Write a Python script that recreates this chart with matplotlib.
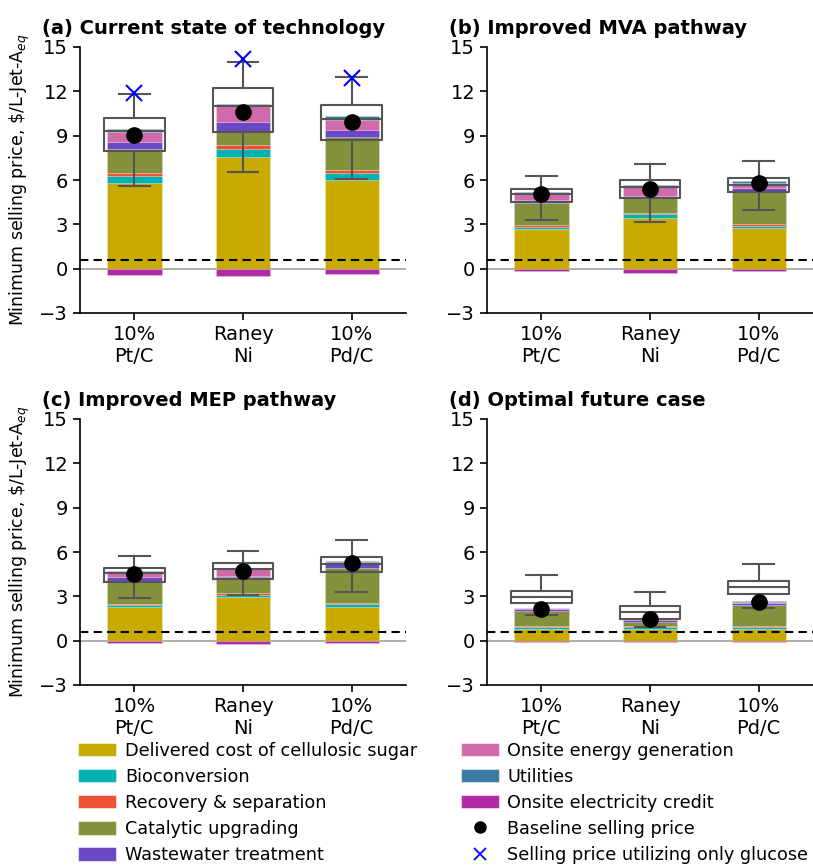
import matplotlib
matplotlib.use('Agg')
import matplotlib.pyplot as plt
from matplotlib.patches import Patch
from matplotlib.lines import Line2D
import numpy as np

# ---------------- data ----------------
catalysts = ['10%\nPt/C', 'Raney\nNi', '10%\nPd/C']
panel_titles = ['(a) Current state of technology', '(b) Improved MVA pathway',
                '(c) Improved MEP pathway', '(d) Optimal future case']

component_names = ['Delivered cost of cellulosic sugar', 'Bioconversion',
                   'Recovery & separation', 'Catalytic upgrading',
                   'Wastewater treatment', 'Onsite energy generation',
                   'Utilities', 'Onsite electricity credit']
component_colors = ['#c8aa00', '#00b2b2', '#f05033', '#84913a',
                    '#6a48c8', '#d06aaa', '#3a7ba0', '#b02aa8']

# rows: panels (a)-(d); columns: Pt/C, Raney Ni, Pd/C
sugar = [[5.80, 7.53, 6.00], [2.66, 3.42, 2.75], [2.28, 2.93, 2.30], [0.81, 0.81, 0.81]]
bioconversion = [[0.50, 0.59, 0.48], [0.15, 0.25, 0.13], [0.11, 0.16, 0.16], [0.11, 0.11, 0.11]]
recovery = [[0.17, 0.27, 0.22], [0.12, 0.13, 0.14], [0.09, 0.11, 0.09], [0.07, 0.09, 0.07]]
catalytic = [[1.65, 0.90, 2.21], [1.53, 0.97, 2.16], [1.54, 1.09, 2.35], [1.00, 0.25, 1.42]]
wastewater = [[0.43, 0.61, 0.49], [0.22, 0.18, 0.27], [0.29, 0.09, 0.27], [0.13, 0.12, 0.16]]
onsite_energy = [[0.67, 1.08, 0.68], [0.38, 0.61, 0.35], [0.25, 0.47, 0.16], [0.07, 0.09, 0.07]]
utilities = [[0.25, 0.14, 0.27], [0.14, 0.09, 0.14], [0.14, 0.05, 0.09], [0.04, 0.04, 0.04]]
electricity_credit = [[-0.40, -0.47, -0.35], [-0.16, -0.27, -0.16], [-0.16, -0.20, -0.16], [-0.09, -0.09, -0.09]]

baseline_price = [[9.07, 10.58, 9.92], [5.06, 5.38, 5.78], [4.51, 4.72, 5.26], [2.17, 1.44, 2.60]]
glucose_only_price = [[11.9, 14.19, 12.9], None, None, None]

# uncertainty boxes: q1, median, q3, whisker low, whisker high
box_q1 = [[7.94, 9.25, 8.68], [4.48, 4.75, 5.18], [4.00, 4.20, 4.63], [2.55, 1.49, 3.18]]
box_med = [[9.34, 11.00, 10.10], [5.04, 5.56, 5.65], [4.56, 4.88, 5.17], [2.98, 1.94, 3.61]]
box_q3 = [[10.20, 12.20, 11.07], [5.36, 5.99, 6.12], [4.90, 5.26, 5.67], [3.38, 2.32, 4.06]]
box_lo = [[5.57, 6.54, 6.07], [3.29, 3.17, 3.96], [2.87, 3.07, 3.32], [1.71, 0.92, 2.21]]
box_hi = [[11.82, 13.98, 13.00], [6.30, 7.07, 7.29], [5.76, 6.07, 6.84], [4.44, 3.29, 5.19]]

reference_price = 0.62  # dashed line
yticks = [-3, 0, 3, 6, 9, 12, 15]

# ---------------- figure ----------------
fig = plt.figure(figsize=(8.13, 8.66), dpi=100)
W, H = 813, 866
positions = [(80, 47), (487, 47), (80, 419), (487, 419)]
aw, ah = 326, 266

positive = [sugar, bioconversion, recovery, catalytic, wastewater, onsite_energy, utilities]
box_color = '#555555'
edge = (1, 1, 1, 0.35)
x = np.arange(len(catalysts))

for p in range(4):
    lx, ty = positions[p]
    ax = fig.add_axes([lx / W, 1 - (ty + ah) / H, aw / W, ah / H])
    bottom = np.zeros(3)
    for k, comp in enumerate(positive):
        vals = np.array(comp[p])
        ax.bar(x, vals, width=0.5, bottom=bottom, color=component_colors[k],
               edgecolor=edge, linewidth=0.4, zorder=2)
        bottom += vals
    ax.bar(x, electricity_credit[p], width=0.5, color=component_colors[7],
           edgecolor=edge, linewidth=0.4, zorder=2)

    stats = []
    for i in range(3):
        stats.append(dict(q1=box_q1[p][i], med=box_med[p][i], q3=box_q3[p][i],
                          whislo=box_lo[p][i], whishi=box_hi[p][i], fliers=[]))
    lp = dict(color=box_color, linewidth=1.5)
    ax.bxp(stats, positions=x, widths=0.56, showfliers=False, manage_ticks=False,
           boxprops=lp, whiskerprops=lp, capprops=lp, medianprops=lp, zorder=3)

    ax.plot(x, baseline_price[p], 'o', color='black', markersize=11, zorder=5)
    if glucose_only_price[p] is not None:
        ax.plot(x, glucose_only_price[p], 'x', color='blue', markersize=11,
                markeredgewidth=1.5, zorder=5)

    ax.axhline(0, color='#a0a0a0', linewidth=1.2, zorder=1)
    ax.axhline(reference_price, color='black', linestyle=(0, (4, 2.5)),
               linewidth=1.5, zorder=4)

    ax.set_xlim(-0.5, 2.5)
    ax.set_ylim(-3, 15)
    ax.set_yticks(yticks)
    ax.set_xticks(x)
    ax.set_xticklabels(catalysts)
    ax.tick_params(labelsize=14, length=5, width=1.2)
    for s in ['top', 'right']:
        ax.spines[s].set_visible(False)
    for s in ['left', 'bottom']:
        ax.spines[s].set_linewidth(1.2)
    ax.text(-0.117, 1.05, panel_titles[p], transform=ax.transAxes, fontsize=14,
            fontweight='bold', va='baseline', ha='left')
    if p in (0, 2):
        ax.set_ylabel('Minimum selling price, \\$/L-Jet-A$_{eq}$', fontsize=12.5)
        ax.yaxis.set_label_coords(-0.147, 0.5)

# ---------------- legend ----------------
patch_handles = [Patch(facecolor=c, edgecolor=(1, 1, 1, 0.5), linewidth=0.8)
                 for c in component_colors]
col1 = patch_handles[:5]
col1_labels = component_names[:5]
col2 = patch_handles[5:] + [
    Line2D([], [], marker='o', color='black', linestyle='', markersize=8),
    Line2D([], [], marker='x', color='blue', linestyle='', markersize=8, markeredgewidth=1.3)]
col2_labels = component_names[5:] + ['Baseline selling price',
                                     'Selling price utilizing only glucose']

leg_kw = dict(loc='upper left', frameon=False, fontsize=12.7, handlelength=2.15,
              handleheight=0.8, handletextpad=0.5, labelspacing=0.46, borderpad=0.4)
fig.legend(col1, col1_labels, bbox_to_anchor=(0.077, 0.162), **leg_kw)
fig.legend(col2, col2_labels, bbox_to_anchor=(0.547, 0.162), **leg_kw)

fig.savefig('out.png', dpi=100)
